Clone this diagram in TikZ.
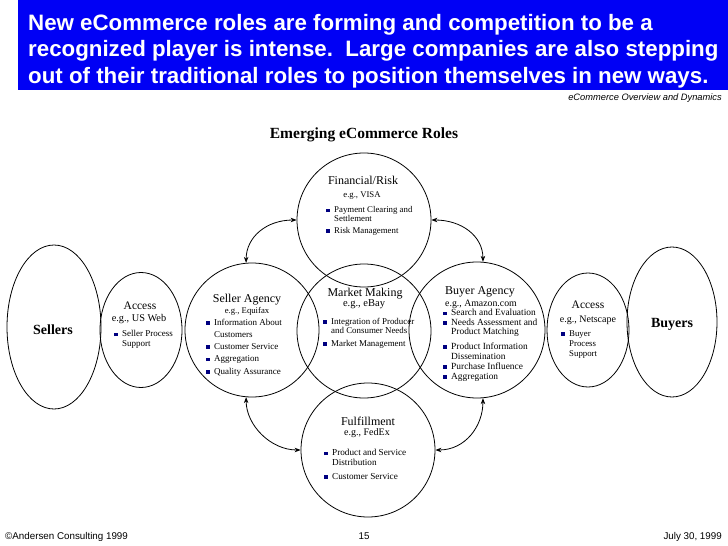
\documentclass[tikz,border=0pt]{standalone}
\usepackage{fontspec}
\setmainfont{Liberation Serif}
\newfontfamily\arialf{Liberation Sans}
\usetikzlibrary{arrows.meta,shapes.geometric}
\definecolor{hdrblue}{RGB}{0,0,245}
\definecolor{bnavy}{RGB}{0,0,128}
\newcommand{\bsq}{\raisebox{0.5pt}{\textcolor{bnavy}{\rule{3.4pt}{3.4pt}}}}
\begin{document}
\begin{tikzpicture}[x=1pt,y=-1pt,
  role/.style={draw,circle,line width=0.8pt,minimum size=134pt,inner sep=0pt},
  oval/.style={draw,ellipse,line width=0.8pt,inner sep=0pt},
  rtitle/.style={anchor=base,inner sep=0pt,font=\fontsize{12}{13}\selectfont},
  eg/.style={anchor=base,inner sep=0pt,font=\fontsize{#1}{10}\selectfont},
  bl/.style={anchor=base west,inner sep=0pt,font=\fontsize{#1}{10}\selectfont},
  bq/.style={anchor=base east,inner sep=0pt,font=\fontsize{8.5}{10}\selectfont,xshift=-4pt},
  dbl/.style={{Stealth[length=6pt,width=4.5pt]}-{Stealth[length=6pt,width=4.5pt]},line width=0.8pt}
]
\useasboundingbox (0,0) rectangle (728,546);
% header
\fill[hdrblue] (18,0) rectangle (728,90);
\node[anchor=base west,inner sep=0pt,align=left,text=white,font=\arialf\bfseries\fontsize{22.3}{26.5}\selectfont] (head) at (28,83)
 {New eCommerce roles are forming and competition to be a\\recognized player is intense.\ \ Large companies are also stepping\\out of their traditional roles to position themselves in new ways.};
\node[anchor=base east,inner sep=0pt,font=\arialf\itshape\fontsize{9.3}{10}\selectfont] (sub) at (722,100.5) {eCommerce Overview and Dynamics};
\node[anchor=base,inner sep=0pt,font=\bfseries\fontsize{15.5}{17}\selectfont] (emer) at (364,138) {Emerging eCommerce Roles};

% shapes
\node[oval,minimum width=94pt,minimum height=164pt] (sel) at (54,327) {};
\node[oval,minimum width=82pt,minimum height=115pt] (acl) at (141,330) {};
\node[role] (sa) at (252,330) {};
\node[role] (mm) at (364,331) {};
\node[role] (fin) at (364,220) {};
\node[role,minimum size=136pt] (ba) at (477,330) {};
\node[role] (ful) at (368,450) {};
\node[oval,minimum width=82pt,minimum height=114pt] (acr) at (588,330) {};
\node[oval,minimum width=90pt,minimum height=150pt] (buy) at (672,322) {};

% arrows
\draw[dbl] (fin.west) .. controls +(-30,0) and +(0,-26) .. (sa.95);
\draw[dbl] (fin.east) .. controls +(30,0) and +(0,-26) .. (ba.85);
\draw[dbl] (sa.265) .. controls +(0,28) and +(-30,0) .. (ful.west);
\draw[dbl] (ba.275) .. controls +(0,28) and +(30,0) .. (ful.east);

% Sellers / Buyers
\node[anchor=base,inner sep=0pt,font=\bfseries\fontsize{14}{15}\selectfont] (selt) at (53,334.5) {Sellers};
\node[anchor=base,inner sep=0pt,font=\bfseries\fontsize{14}{15}\selectfont] (buyt) at (672,327.5) {Buyers};

% Access left
\node[rtitle,font=\fontsize{11.5}{12}\selectfont] (aclt) at (140,309.5) {Access};
\node[eg=10.3] (acle) at (139,321) {e.g., US Web};
\node[bl=9] (acl1) at (122,336.7) {Seller Process};
\node[bq] at (acl1.base west) {\bsq};
\node[bl=9] (acl2) at (122,346.3) {Support};

% Access right
\node[rtitle,font=\fontsize{11.5}{12}\selectfont] (acrt) at (588,308.5) {Access};
\node[eg=10] (acre) at (588,322.3) {e.g., Netscape};
\node[bl=8.8] (acr1) at (569,336.3) {Buyer};
\node[bq] at (acr1.base west) {\bsq};
\node[bl=8.8] (acr2) at (569,346) {Process};
\node[bl=8.8] (acr3) at (569,356) {Support};

% Financial
\node[rtitle] (fint) at (363,184.3) {Financial/Risk};
\node[eg=8.7] (fine) at (362,197) {e.g., VISA};
\node[bl=8.8] (fin1) at (334,212.7) {Payment Clearing and};
\node[bq] at (fin1.base west) {\bsq};
\node[bl=8.8] (fin2) at (334,221.7) {Settlement};
\node[bl=8.8] (fin3) at (334,233.3) {Risk Management};
\node[bq] at (fin3.base west) {\bsq};

% Seller Agency
\node[rtitle] (sat) at (247,302.3) {Seller Agency};
\node[eg=8.7] (sae) at (247,313.3) {e.g., Equifax};
\node[bl=9] (sa1) at (214,325.3) {Information About};
\node[bq] at (sa1.base west) {\bsq};
\node[bl=9] (sa2) at (214,337.7) {Customers};
\node[bl=9] (sa3) at (214,349.3) {Customer Service};
\node[bq] at (sa3.base west) {\bsq};
\node[bl=9] (sa4) at (214,361.7) {Aggregation};
\node[bq] at (sa4.base west) {\bsq};
\node[bl=9] (sa5) at (214,374.3) {Quality Assurance};
\node[bq] at (sa5.base west) {\bsq};

% Market Making
\node[rtitle] (mmt) at (365,296) {Market Making};
\node[eg=10.5] (mme) at (364,306) {e.g., eBay};
\node[bl=8.9] (mm1) at (331,324.3) {Integration of Producer};
\node[bq] at (mm1.base west) {\bsq};
\node[bl=8.9] (mm2) at (331,333.7) {and Consumer Needs};
\node[bl=8.9] (mm3) at (331,346) {Market Management};
\node[bq] at (mm3.base west) {\bsq};

% Buyer Agency
\node[rtitle] (bat) at (480,294) {Buyer Agency};
\node[eg=9.8] (bae) at (481,306) {e.g., Amazon.com};
\node[bl=9.4] (ba1) at (451,315.7) {Search and Evaluation};
\node[bq] at (ba1.base west) {\bsq};
\node[bl=9.4] (ba2) at (451,325) {Needs Assessment and};
\node[bq] at (ba2.base west) {\bsq};
\node[bl=9.4] (ba3) at (451,334) {Product Matching};
\node[bl=9.4] (ba4) at (451,349) {Product Information};
\node[bq] at (ba4.base west) {\bsq};
\node[bl=9.4] (ba5) at (451,359) {Dissemination};
\node[bl=9.4] (ba6) at (451,369.3) {Purchase Influence};
\node[bq] at (ba6.base west) {\bsq};
\node[bl=9.4] (ba7) at (451,379.3) {Aggregation};
\node[bq] at (ba7.base west) {\bsq};

% Fulfillment
\node[rtitle] (fult) at (368,425) {Fulfillment};
\node[eg=10] (fule) at (367,435.7) {e.g., FedEx};
\node[bl=9.2] (ful1) at (332,455.7) {Product and Service};
\node[bq] at (ful1.base west) {\bsq};
\node[bl=9.2] (ful2) at (332,465) {Distribution};
\node[bl=9.2] (ful3) at (332,479.3) {Customer Service};
\node[bq] at (ful3.base west) {\bsq};

% footer
\node[anchor=base west,inner sep=0pt,font=\arialf\fontsize{9.8}{10}\selectfont] (copy) at (5,539) {©Andersen Consulting 1999};
\node[anchor=base,inner sep=0pt,font=\arialf\fontsize{9.8}{10}\selectfont] (page) at (364,539) {15};
\node[anchor=base east,inner sep=0pt,font=\arialf\fontsize{9.8}{10}\selectfont] (date) at (722,539) {July 30, 1999};
\end{tikzpicture}
\end{document}
